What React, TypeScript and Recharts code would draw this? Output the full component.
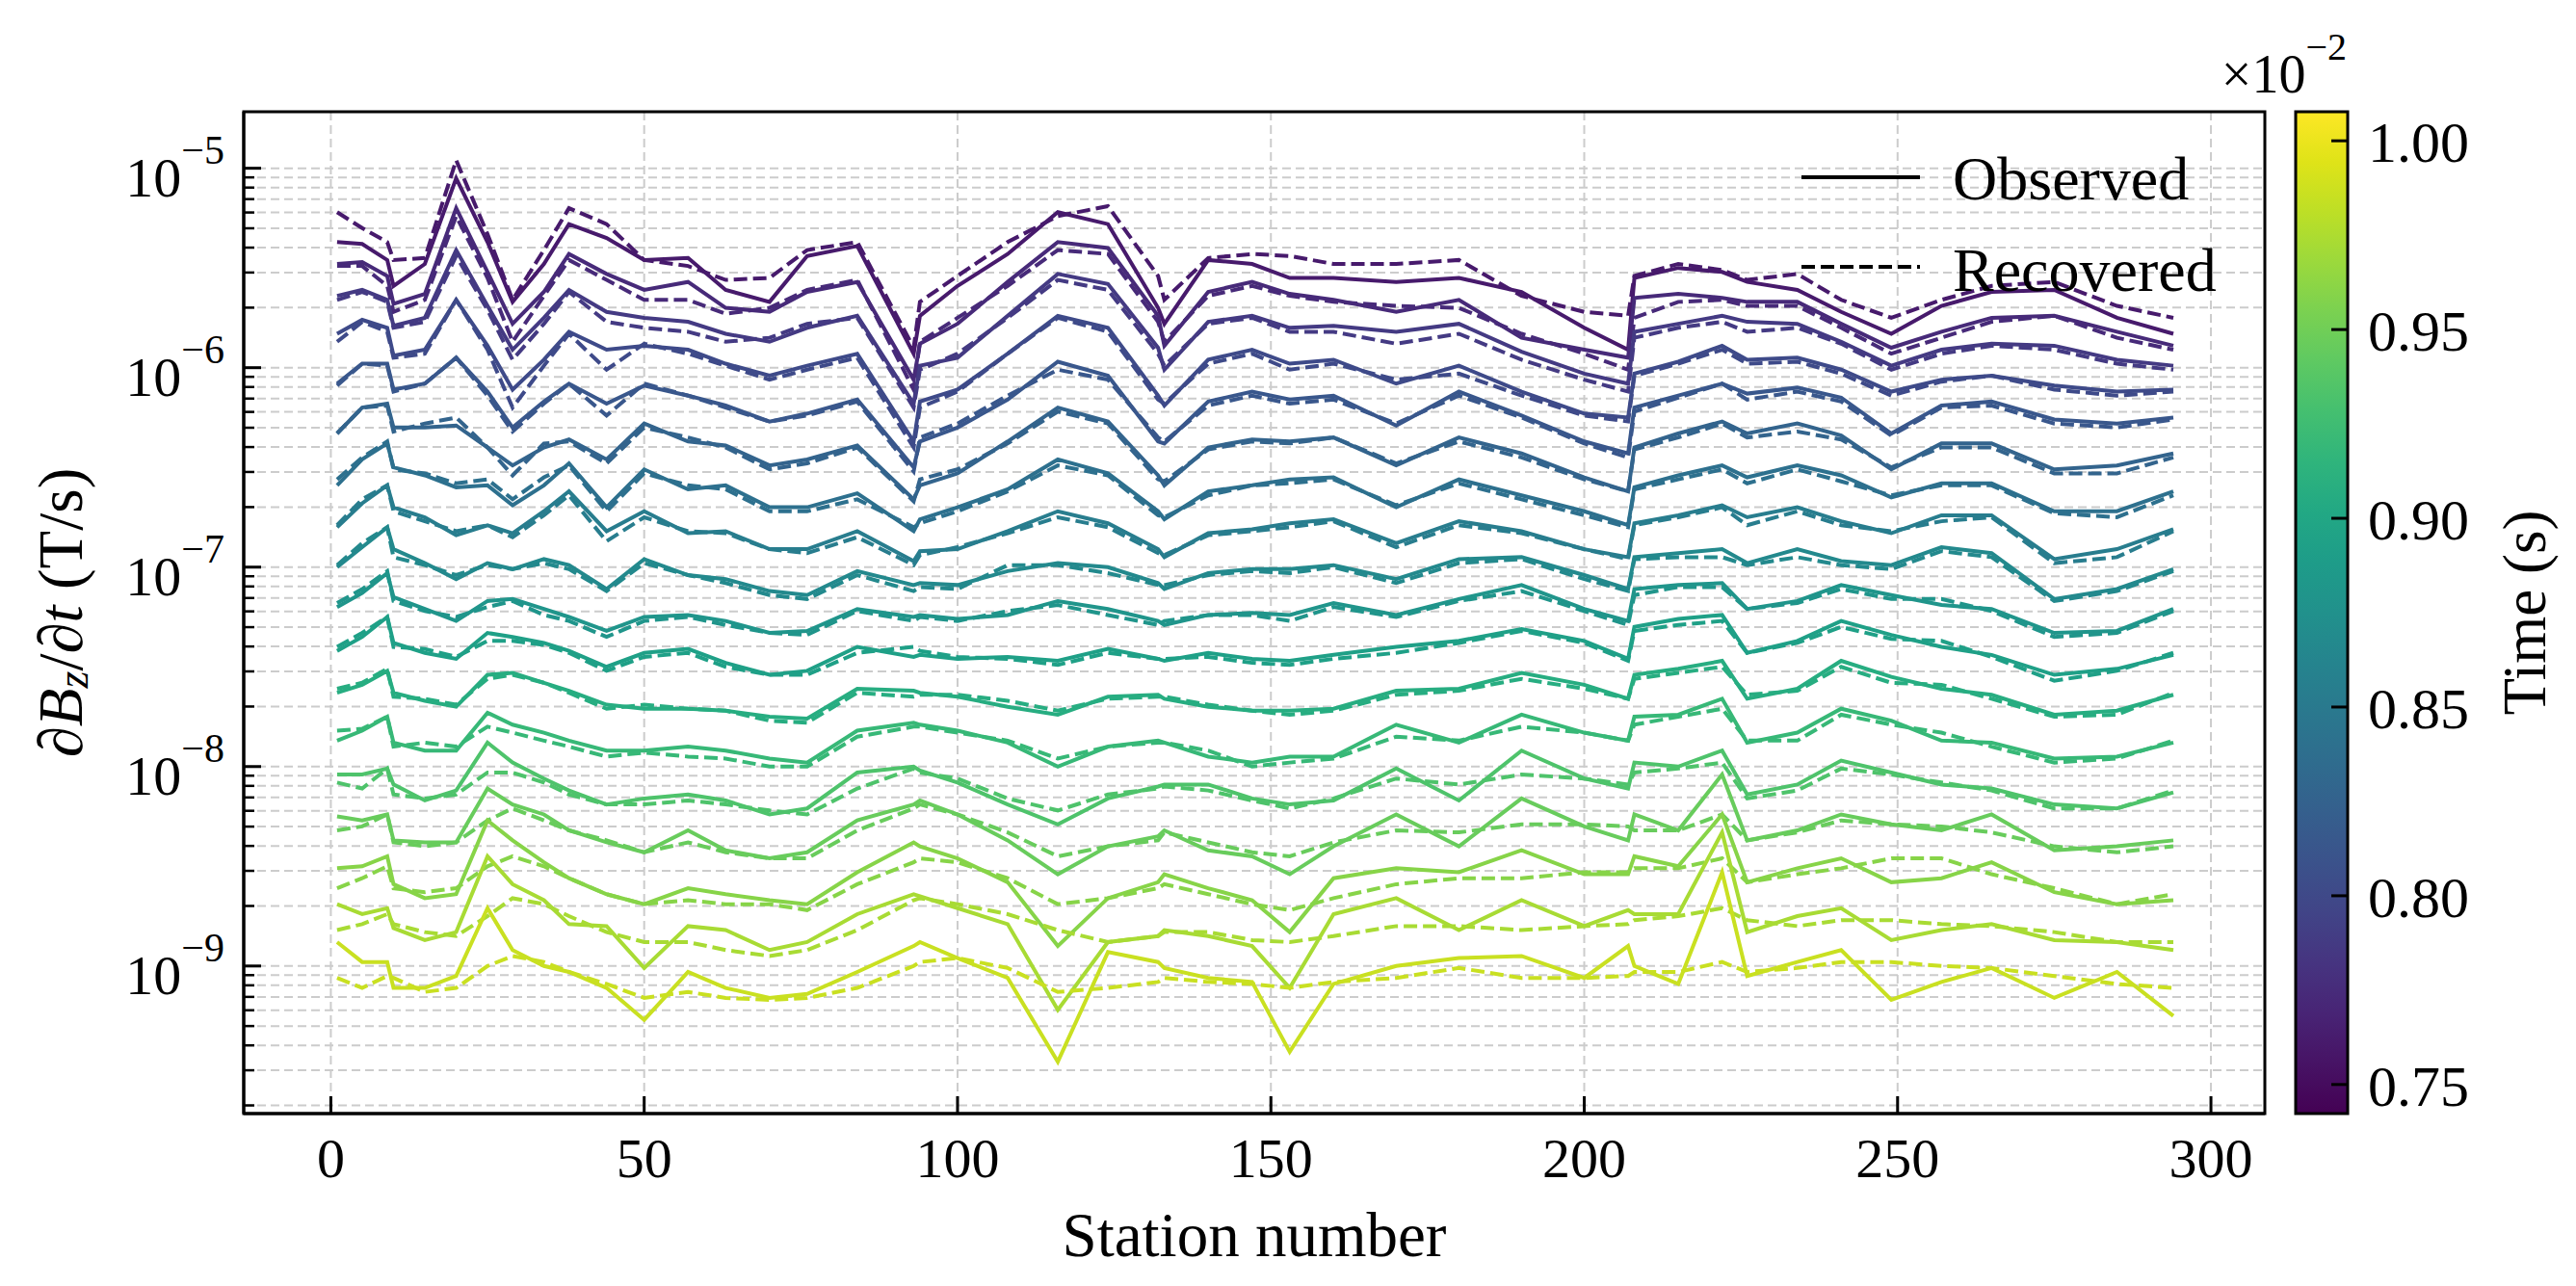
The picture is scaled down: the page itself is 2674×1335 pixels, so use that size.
import React from 'react';
import { LineChart, Line, XAxis, YAxis, CartesianGrid } from 'recharts';

const W = 2674;
const H = 1335;
const PLOT = { left: 253, top: 116, right: 2351, bottom: 1156 };
const SERIF = '"Liberation Serif", "Times New Roman", "DejaVu Serif", serif';
const Y_AXIS_W = 100;
const X_AXIS_H = 60;

const stations = [
  1, 5, 9, 10, 15, 20, 25, 29, 34, 38, 44, 50, 57, 63, 70,
  76, 84, 93, 94, 100, 108, 116, 124, 132, 133, 140, 147,
  153, 160, 170, 180, 190, 200, 207, 208, 215, 222, 226,
  234, 241, 249, 257, 265, 275, 285, 294,
];

// log10 of dBz/dt (T/s), observed (solid), earliest gate first
const obs0 = [
  -5.37, -5.38, -5.46, -5.59, -5.48, -5.05, -5.37, -5.67, -5.48, -5.28, -5.35, -5.46, -5.45, -5.61, -5.67,
  -5.44, -5.39, -5.93, -5.74, -5.59, -5.43, -5.22, -5.28, -5.70, -5.78, -5.46, -5.48,
  -5.55, -5.55, -5.57, -5.55, -5.62, -5.80, -5.91, -5.55, -5.50, -5.52, -5.57,
  -5.61, -5.72, -5.83, -5.69, -5.62, -5.61, -5.75, -5.83,
];
const obs1 = [
  -5.48, -5.47, -5.54, -5.68, -5.63, -5.20, -5.52, -5.78, -5.62, -5.43, -5.53, -5.61, -5.57, -5.70, -5.72,
  -5.62, -5.57, -6.06, -5.88, -5.78, -5.57, -5.37, -5.40, -5.74, -5.89, -5.62, -5.57,
  -5.63, -5.66, -5.72, -5.66, -5.85, -5.91, -5.95, -5.65, -5.63, -5.65, -5.67,
  -5.67, -5.78, -5.90, -5.82, -5.75, -5.74, -5.82, -5.89,
];
const obs2 = [
  -5.64, -5.61, -5.66, -5.79, -5.75, -5.41, -5.69, -5.91, -5.75, -5.61, -5.72, -5.75, -5.77, -5.83, -5.87,
  -5.80, -5.74, -6.18, -5.99, -5.95, -5.74, -5.53, -5.58, -5.90, -6.01, -5.77, -5.74,
  -5.80, -5.79, -5.82, -5.78, -5.92, -6.03, -6.08, -5.82, -5.78, -5.74, -5.77,
  -5.78, -5.87, -5.99, -5.91, -5.88, -5.89, -5.96, -5.99,
];
const obs3 = [
  -5.83, -5.76, -5.80, -5.94, -5.91, -5.66, -5.89, -6.11, -5.96, -5.82, -5.91, -5.89, -5.91, -5.98, -6.04,
  -5.99, -5.93, -6.37, -6.17, -6.11, -5.93, -5.74, -5.80, -6.14, -6.19, -5.96, -5.91,
  -5.98, -5.96, -6.08, -5.99, -6.12, -6.23, -6.25, -6.03, -5.97, -5.89, -5.96,
  -5.95, -6.01, -6.12, -6.06, -6.04, -6.09, -6.12, -6.11,
];
const obs4 = [
  -6.08, -5.98, -5.98, -6.11, -6.08, -5.95, -6.12, -6.30, -6.17, -6.08, -6.18, -6.09, -6.14, -6.19, -6.27,
  -6.23, -6.16, -6.50, -6.37, -6.30, -6.16, -5.97, -6.04, -6.37, -6.38, -6.17, -6.12,
  -6.16, -6.14, -6.29, -6.12, -6.24, -6.37, -6.43, -6.20, -6.14, -6.08, -6.13,
  -6.10, -6.15, -6.33, -6.19, -6.17, -6.26, -6.28, -6.25,
];
const obs5 = [
  -6.33, -6.20, -6.18, -6.30, -6.30, -6.29, -6.40, -6.49, -6.40, -6.36, -6.46, -6.28, -6.37, -6.39, -6.49,
  -6.46, -6.39, -6.66, -6.59, -6.53, -6.37, -6.20, -6.27, -6.54, -6.59, -6.40, -6.36,
  -6.37, -6.35, -6.49, -6.35, -6.43, -6.55, -6.62, -6.40, -6.33, -6.27, -6.33,
  -6.28, -6.34, -6.51, -6.38, -6.38, -6.51, -6.49, -6.43,
];
const obs6 = [
  -6.59, -6.46, -6.38, -6.50, -6.54, -6.60, -6.59, -6.69, -6.59, -6.48, -6.70, -6.51, -6.61, -6.59, -6.70,
  -6.70, -6.63, -6.82, -6.76, -6.70, -6.61, -6.46, -6.53, -6.72, -6.76, -6.62, -6.59,
  -6.56, -6.55, -6.70, -6.56, -6.64, -6.72, -6.79, -6.60, -6.54, -6.49, -6.55,
  -6.49, -6.54, -6.65, -6.58, -6.58, -6.72, -6.72, -6.62,
];
const obs7 = [
  -6.80, -6.68, -6.59, -6.70, -6.75, -6.84, -6.79, -6.83, -6.72, -6.62, -6.82, -6.72, -6.83, -6.82, -6.91,
  -6.91, -6.82, -6.97, -6.92, -6.91, -6.82, -6.72, -6.78, -6.91, -6.95, -6.83, -6.81,
  -6.78, -6.76, -6.88, -6.77, -6.82, -6.91, -6.95, -6.78, -6.74, -6.69, -6.75,
  -6.70, -6.77, -6.83, -6.74, -6.74, -6.96, -6.91, -6.81,
];
const obs8 = [
  -7.00, -6.90, -6.80, -6.91, -6.98, -7.06, -6.98, -7.01, -6.96, -6.99, -7.11, -6.96, -7.04, -7.06, -7.12,
  -7.14, -7.02, -7.09, -7.08, -7.09, -7.02, -6.98, -7.00, -7.08, -7.11, -7.03, -7.01,
  -7.01, -6.99, -7.06, -6.96, -6.95, -7.04, -7.11, -6.95, -6.93, -6.91, -6.98,
  -6.91, -6.97, -6.99, -6.90, -6.93, -7.16, -7.11, -7.01,
];
const obs9 = [
  -7.20, -7.13, -7.03, -7.15, -7.21, -7.27, -7.17, -7.16, -7.21, -7.25, -7.32, -7.25, -7.24, -7.27, -7.33,
  -7.32, -7.21, -7.25, -7.24, -7.26, -7.24, -7.17, -7.21, -7.27, -7.29, -7.24, -7.23,
  -7.24, -7.18, -7.24, -7.16, -7.09, -7.21, -7.27, -7.11, -7.09, -7.08, -7.21,
  -7.17, -7.09, -7.14, -7.19, -7.21, -7.33, -7.32, -7.21,
];
const obs10 = [
  -7.42, -7.35, -7.25, -7.38, -7.43, -7.46, -7.33, -7.35, -7.38, -7.42, -7.50, -7.43, -7.41, -7.48, -7.54,
  -7.52, -7.40, -7.45, -7.44, -7.46, -7.45, -7.47, -7.41, -7.46, -7.47, -7.43, -7.46,
  -7.47, -7.44, -7.40, -7.37, -7.31, -7.37, -7.46, -7.30, -7.26, -7.24, -7.43,
  -7.37, -7.27, -7.34, -7.40, -7.44, -7.54, -7.51, -7.44,
];
const obs11 = [
  -7.63, -7.59, -7.52, -7.63, -7.67, -7.70, -7.54, -7.53, -7.58, -7.62, -7.69, -7.71, -7.71, -7.72, -7.75,
  -7.76, -7.61, -7.62, -7.63, -7.65, -7.70, -7.74, -7.65, -7.64, -7.66, -7.70, -7.72,
  -7.72, -7.71, -7.62, -7.61, -7.53, -7.59, -7.66, -7.54, -7.51, -7.47, -7.66,
  -7.61, -7.47, -7.55, -7.61, -7.64, -7.74, -7.72, -7.64,
];
const obs12 = [
  -7.87, -7.82, -7.75, -7.88, -7.92, -7.92, -7.73, -7.79, -7.83, -7.87, -7.92, -7.92, -7.90, -7.92, -7.96,
  -7.98, -7.82, -7.78, -7.79, -7.82, -7.88, -8.00, -7.90, -7.87, -7.88, -7.95, -7.98,
  -7.95, -7.95, -7.79, -7.88, -7.74, -7.83, -7.87, -7.75, -7.74, -7.66, -7.88,
  -7.83, -7.71, -7.77, -7.87, -7.88, -7.96, -7.95, -7.88,
];
const obs13 = [
  -8.04, -8.04, -8.01, -8.09, -8.17, -8.12, -7.88, -7.98, -8.06, -8.12, -8.19, -8.16, -8.14, -8.17, -8.24,
  -8.21, -8.03, -8.00, -8.02, -8.08, -8.19, -8.29, -8.16, -8.10, -8.09, -8.09, -8.16,
  -8.19, -8.17, -8.01, -8.17, -7.92, -8.06, -8.11, -7.98, -8.00, -7.92, -8.14,
  -8.09, -7.97, -8.03, -8.09, -8.11, -8.19, -8.21, -8.13,
];
const obs14 = [
  -8.25, -8.27, -8.24, -8.37, -8.38, -8.38, -8.11, -8.19, -8.24, -8.32, -8.38, -8.43, -8.32, -8.42, -8.46,
  -8.43, -8.27, -8.19, -8.17, -8.24, -8.37, -8.54, -8.40, -8.35, -8.32, -8.42, -8.45,
  -8.54, -8.40, -8.24, -8.40, -8.16, -8.30, -8.37, -8.24, -8.32, -8.04, -8.37,
  -8.32, -8.24, -8.29, -8.32, -8.24, -8.42, -8.40, -8.37,
];
const obs15 = [
  -8.51, -8.50, -8.45, -8.59, -8.66, -8.64, -8.27, -8.37, -8.48, -8.56, -8.64, -8.69, -8.61, -8.64, -8.67,
  -8.69, -8.53, -8.38, -8.40, -8.46, -8.58, -8.90, -8.66, -8.58, -8.54, -8.61, -8.67,
  -8.83, -8.56, -8.51, -8.53, -8.42, -8.54, -8.54, -8.45, -8.50, -8.24, -8.58,
  -8.51, -8.46, -8.58, -8.56, -8.48, -8.63, -8.69, -8.67,
];
const obs16 = [
  -8.69, -8.74, -8.71, -8.81, -8.87, -8.83, -8.45, -8.59, -8.67, -8.79, -8.80, -9.01, -8.80, -8.82, -8.92,
  -8.88, -8.74, -8.64, -8.65, -8.71, -8.79, -9.22, -8.88, -8.85, -8.82, -8.85, -8.90,
  -9.11, -8.74, -8.66, -8.82, -8.67, -8.80, -8.72, -8.74, -8.74, -8.33, -8.83,
  -8.75, -8.71, -8.87, -8.82, -8.79, -8.87, -8.88, -8.92,
];
const obs17 = [
  -8.88, -8.98, -8.98, -9.11, -9.11, -9.05, -8.71, -8.92, -9.00, -9.03, -9.11, -9.27, -9.03, -9.11, -9.16,
  -9.14, -9.03, -8.90, -8.88, -8.96, -9.06, -9.48, -8.93, -8.98, -9.01, -9.06, -9.08,
  -9.43, -9.09, -9.00, -8.96, -8.95, -9.06, -8.90, -9.00, -9.09, -8.53, -9.05,
  -8.98, -8.92, -9.17, -9.08, -9.01, -9.16, -9.03, -9.25,
];

// log10 of dBz/dt (T/s), recovered (dashed)
const rec0 = [
  -5.22, -5.30, -5.37, -5.46, -5.45, -4.96, -5.33, -5.66, -5.41, -5.20, -5.28, -5.46, -5.49, -5.56, -5.55,
  -5.41, -5.37, -5.90, -5.67, -5.54, -5.37, -5.24, -5.19, -5.54, -5.66, -5.45, -5.43,
  -5.44, -5.48, -5.48, -5.46, -5.64, -5.72, -5.74, -5.54, -5.48, -5.51, -5.56,
  -5.53, -5.66, -5.75, -5.66, -5.59, -5.57, -5.69, -5.75,
];
const rec1 = [
  -5.49, -5.49, -5.59, -5.72, -5.66, -5.24, -5.55, -5.87, -5.64, -5.46, -5.56, -5.66, -5.66, -5.73, -5.70,
  -5.61, -5.56, -6.11, -5.87, -5.75, -5.59, -5.41, -5.43, -5.77, -5.87, -5.64, -5.59,
  -5.64, -5.67, -5.69, -5.70, -5.83, -5.93, -6.01, -5.75, -5.67, -5.66, -5.69,
  -5.69, -5.80, -5.93, -5.85, -5.77, -5.74, -5.85, -5.91,
];
const rec2 = [
  -5.66, -5.62, -5.67, -5.80, -5.77, -5.44, -5.71, -5.96, -5.78, -5.62, -5.77, -5.80, -5.82, -5.87, -5.85,
  -5.78, -5.75, -6.20, -6.01, -5.93, -5.75, -5.56, -5.61, -5.93, -5.99, -5.78, -5.75,
  -5.82, -5.82, -5.88, -5.83, -5.96, -6.06, -6.12, -5.85, -5.80, -5.77, -5.82,
  -5.80, -5.88, -6.01, -5.93, -5.89, -5.91, -5.98, -6.01,
];
const rec3 = [
  -5.87, -5.77, -5.82, -5.95, -5.93, -5.66, -5.91, -6.20, -5.99, -5.83, -6.01, -5.88, -5.93, -5.99, -6.06,
  -6.01, -5.95, -6.40, -6.20, -6.12, -5.93, -5.75, -5.82, -6.16, -6.18, -5.98, -5.93,
  -6.01, -5.98, -6.06, -6.03, -6.14, -6.24, -6.27, -6.04, -5.98, -5.91, -5.98,
  -5.97, -6.03, -6.14, -6.07, -6.04, -6.11, -6.14, -6.12,
];
const rec4 = [
  -6.09, -5.98, -5.99, -6.12, -6.08, -5.95, -6.14, -6.32, -6.18, -6.08, -6.24, -6.08, -6.14, -6.20, -6.27,
  -6.24, -6.17, -6.52, -6.35, -6.28, -6.14, -6.01, -6.06, -6.35, -6.37, -6.19, -6.14,
  -6.18, -6.16, -6.28, -6.14, -6.25, -6.38, -6.45, -6.22, -6.15, -6.08, -6.16,
  -6.12, -6.17, -6.34, -6.20, -6.19, -6.28, -6.30, -6.26,
];
const rec5 = [
  -6.33, -6.20, -6.19, -6.32, -6.28, -6.25, -6.40, -6.54, -6.38, -6.37, -6.48, -6.30, -6.35, -6.40, -6.51,
  -6.48, -6.40, -6.67, -6.56, -6.51, -6.38, -6.22, -6.28, -6.56, -6.57, -6.41, -6.37,
  -6.38, -6.35, -6.48, -6.37, -6.45, -6.56, -6.62, -6.41, -6.35, -6.28, -6.35,
  -6.32, -6.36, -6.50, -6.40, -6.40, -6.53, -6.53, -6.45,
];
const rec6 = [
  -6.56, -6.45, -6.37, -6.51, -6.53, -6.58, -6.56, -6.66, -6.55, -6.49, -6.72, -6.53, -6.59, -6.61, -6.72,
  -6.72, -6.66, -6.80, -6.78, -6.72, -6.62, -6.49, -6.54, -6.74, -6.75, -6.64, -6.59,
  -6.58, -6.56, -6.69, -6.58, -6.66, -6.74, -6.80, -6.61, -6.56, -6.51, -6.58,
  -6.51, -6.57, -6.64, -6.59, -6.59, -6.73, -6.75, -6.64,
];
const rec7 = [
  -6.79, -6.66, -6.59, -6.72, -6.77, -6.82, -6.79, -6.85, -6.74, -6.64, -6.87, -6.75, -6.82, -6.83, -6.91,
  -6.93, -6.85, -6.99, -6.94, -6.90, -6.83, -6.75, -6.80, -6.93, -6.94, -6.84, -6.82,
  -6.80, -6.77, -6.90, -6.79, -6.83, -6.91, -6.96, -6.79, -6.75, -6.70, -6.79,
  -6.72, -6.79, -6.82, -6.77, -6.75, -6.98, -6.95, -6.82,
];
const rec8 = [
  -6.99, -6.88, -6.80, -6.95, -6.99, -7.04, -6.99, -7.01, -6.98, -7.01, -7.12, -6.98, -7.04, -7.08, -7.14,
  -7.16, -7.04, -7.12, -7.10, -7.11, -6.99, -6.99, -7.03, -7.09, -7.09, -7.04, -7.02,
  -7.03, -7.00, -7.08, -6.98, -6.96, -7.06, -7.12, -6.96, -6.95, -6.95, -6.99,
  -6.95, -6.99, -7.01, -6.92, -6.95, -7.17, -7.12, -7.02,
];
const rec9 = [
  -7.18, -7.11, -7.02, -7.17, -7.22, -7.25, -7.20, -7.17, -7.24, -7.27, -7.35, -7.27, -7.25, -7.29, -7.33,
  -7.34, -7.22, -7.27, -7.25, -7.27, -7.22, -7.19, -7.24, -7.29, -7.27, -7.24, -7.24,
  -7.27, -7.20, -7.25, -7.17, -7.12, -7.22, -7.29, -7.14, -7.10, -7.10, -7.21,
  -7.18, -7.11, -7.16, -7.16, -7.22, -7.35, -7.33, -7.22,
];
const rec10 = [
  -7.40, -7.33, -7.25, -7.40, -7.41, -7.45, -7.37, -7.37, -7.39, -7.43, -7.52, -7.45, -7.43, -7.50, -7.54,
  -7.54, -7.43, -7.40, -7.42, -7.45, -7.46, -7.49, -7.43, -7.46, -7.46, -7.45, -7.48,
  -7.49, -7.46, -7.43, -7.38, -7.32, -7.38, -7.47, -7.32, -7.29, -7.27, -7.43,
  -7.38, -7.30, -7.36, -7.37, -7.45, -7.57, -7.52, -7.43,
];
const rec11 = [
  -7.61, -7.58, -7.51, -7.65, -7.66, -7.69, -7.56, -7.54, -7.58, -7.63, -7.71, -7.69, -7.71, -7.72, -7.77,
  -7.78, -7.63, -7.65, -7.64, -7.64, -7.67, -7.72, -7.66, -7.65, -7.65, -7.69, -7.72,
  -7.74, -7.72, -7.64, -7.62, -7.56, -7.61, -7.66, -7.56, -7.53, -7.50, -7.64,
  -7.62, -7.50, -7.58, -7.59, -7.66, -7.75, -7.74, -7.63,
];
const rec12 = [
  -7.82, -7.81, -7.75, -7.90, -7.88, -7.90, -7.80, -7.83, -7.87, -7.90, -7.95, -7.93, -7.95, -7.96, -8.00,
  -8.00, -7.85, -7.80, -7.80, -7.83, -7.87, -7.96, -7.90, -7.88, -7.88, -7.92, -8.00,
  -7.98, -7.96, -7.85, -7.87, -7.80, -7.83, -7.87, -7.79, -7.75, -7.71, -7.87,
  -7.87, -7.74, -7.79, -7.83, -7.90, -7.98, -7.96, -7.87,
];
const rec13 = [
  -8.08, -8.11, -8.01, -8.14, -8.16, -8.14, -8.03, -8.03, -8.08, -8.14, -8.19, -8.19, -8.17, -8.19, -8.22,
  -8.24, -8.11, -8.01, -8.03, -8.06, -8.16, -8.22, -8.14, -8.11, -8.10, -8.12, -8.17,
  -8.21, -8.16, -8.06, -8.09, -8.04, -8.06, -8.09, -8.03, -8.01, -7.98, -8.16,
  -8.12, -8.01, -8.04, -8.08, -8.12, -8.21, -8.21, -8.12,
];
const rec14 = [
  -8.32, -8.30, -8.24, -8.38, -8.40, -8.38, -8.27, -8.21, -8.27, -8.32, -8.37, -8.43, -8.38, -8.43, -8.46,
  -8.46, -8.32, -8.21, -8.19, -8.24, -8.33, -8.45, -8.40, -8.37, -8.33, -8.38, -8.43,
  -8.45, -8.38, -8.32, -8.33, -8.29, -8.29, -8.30, -8.32, -8.32, -8.24, -8.37,
  -8.33, -8.27, -8.29, -8.30, -8.33, -8.40, -8.43, -8.40,
];
const rec15 = [
  -8.61, -8.56, -8.50, -8.61, -8.63, -8.61, -8.50, -8.45, -8.50, -8.56, -8.64, -8.69, -8.67, -8.69, -8.69,
  -8.72, -8.59, -8.48, -8.46, -8.48, -8.56, -8.69, -8.66, -8.61, -8.59, -8.64, -8.69,
  -8.72, -8.66, -8.59, -8.56, -8.56, -8.53, -8.53, -8.51, -8.51, -8.46, -8.58,
  -8.54, -8.51, -8.46, -8.46, -8.54, -8.61, -8.69, -8.64,
];
const rec16 = [
  -8.82, -8.79, -8.74, -8.79, -8.83, -8.85, -8.75, -8.66, -8.69, -8.75, -8.83, -8.88, -8.88, -8.92, -8.95,
  -8.92, -8.82, -8.67, -8.66, -8.69, -8.74, -8.82, -8.88, -8.85, -8.83, -8.83, -8.87,
  -8.88, -8.85, -8.80, -8.80, -8.82, -8.80, -8.79, -8.77, -8.75, -8.71, -8.77,
  -8.80, -8.77, -8.77, -8.79, -8.80, -8.83, -8.88, -8.88,
];
const rec17 = [
  -9.06, -9.11, -9.05, -9.06, -9.13, -9.11, -9.00, -8.95, -8.98, -9.03, -9.09, -9.16, -9.13, -9.16, -9.17,
  -9.16, -9.11, -9.00, -8.98, -8.96, -9.01, -9.13, -9.11, -9.08, -9.06, -9.08, -9.09,
  -9.11, -9.08, -9.06, -9.01, -9.06, -9.06, -9.05, -9.03, -9.03, -8.98, -9.03,
  -9.01, -8.98, -8.98, -9.00, -9.01, -9.05, -9.09, -9.11,
];

// gate times (x 1e-2 s), estimated from the line colours
const gateTimes = [
  0.761, 0.774, 0.787, 0.801, 0.814, 0.827, 0.840, 0.854, 0.867,
  0.880, 0.893, 0.907, 0.920, 0.933, 0.946, 0.960, 0.973, 0.986,
];

const xTicks = [0, 50, 100, 150, 200, 250, 300];
const yMajorTicks = [1e-9, 1e-8, 1e-7, 1e-6, 1e-5];
const yMinorTicks = [
  2e-10, 3e-10, 4e-10, 5e-10, 6e-10, 7e-10, 8e-10, 9e-10,
  2e-9, 3e-9, 4e-9, 5e-9, 6e-9, 7e-9, 8e-9, 9e-9,
  2e-8, 3e-8, 4e-8, 5e-8, 6e-8, 7e-8, 8e-8, 9e-8,
  2e-7, 3e-7, 4e-7, 5e-7, 6e-7, 7e-7, 8e-7, 9e-7,
  2e-6, 3e-6, 4e-6, 5e-6, 6e-6, 7e-6, 8e-6, 9e-6,
];
const cbTicks = [0.75, 0.8, 0.85, 0.9, 0.95, 1.0];

const X_DOMAIN: [number, number] = [-13.9, 308.6];
const Y_DOMAIN: [number, number] = [1.82e-10, 1.92e-5];
const CB_MIN = 0.7423;
const CB_MAX = 1.0077;

const observed = [obs0, obs1, obs2, obs3, obs4, obs5, obs6, obs7, obs8, obs9, obs10, obs11, obs12, obs13, obs14, obs15, obs16, obs17];
const recovered = [rec0, rec1, rec2, rec3, rec4, rec5, rec6, rec7, rec8, rec9, rec10, rec11, rec12, rec13, rec14, rec15, rec16, rec17];

const chartData = stations.map((s, i) => {
  const row: Record<string, number> = { station: s };
  observed.forEach((arr, k) => { row[`o${k}`] = Math.pow(10, arr[i]); });
  recovered.forEach((arr, k) => { row[`r${k}`] = Math.pow(10, arr[i]); });
  return row;
});

const VIRIDIS = [
  '#440154', '#471365', '#482475', '#463480', '#414487', '#3b528b', '#355f8d',
  '#2f6c8e', '#2a788e', '#25848e', '#21918c', '#1e9c89', '#22a884', '#2fb47c',
  '#44bf70', '#5ec962', '#7ad151', '#9bd93c', '#bddf26', '#dfe318', '#fde725',
];

function hexRgb(h: string) {
  return [1, 3, 5].map(i => parseInt(h.slice(i, i + 2), 16));
}

function viridis(t: number) {
  const p = Math.max(0, Math.min(1, t)) * (VIRIDIS.length - 1);
  const i = Math.min(VIRIDIS.length - 2, Math.floor(p));
  const f = p - i;
  const a = hexRgb(VIRIDIS[i]);
  const b = hexRgb(VIRIDIS[i + 1]);
  const c = a.map((v, j) => Math.round(v + (b[j] - v) * f));
  return `rgb(${c[0]},${c[1]},${c[2]})`;
}

const lineColors = gateTimes.map(t => viridis((t - CB_MIN) / (CB_MAX - CB_MIN)));

const majorSet = new Set(yMajorTicks);

// ticks point inward, as in the matplotlib original
const YTick = (props: any) => {
  const { x, y, payload } = props;
  const v = payload.value as number;
  const major = majorSet.has(v);
  const exp = Math.round(Math.log10(v));
  return (
    <g>
      <line x1={x} x2={x + (major ? 18 : 11)} y1={y} y2={y} stroke="#000" strokeWidth={major ? 3 : 2.5} />
      {major && (
        <text x={x - 20} y={y + 29} textAnchor="end" fontFamily={SERIF} fontSize={58} fill="#000">
          10<tspan dy={-34} fontSize={42}>{`\u2212${-exp}`}</tspan>
        </text>
      )}
    </g>
  );
};

const XTick = (props: any) => {
  const { x, y, payload } = props;
  return (
    <g>
      <line x1={x} x2={x} y1={y} y2={y - 18} stroke="#000" strokeWidth={3} />
      <text x={x} y={y + 66} textAnchor="middle" fontFamily={SERIF} fontSize={58} fill="#000">
        {payload.value}
      </text>
    </g>
  );
};

function Overlay() {
  const cbX = 2383;
  const cbW = 54;
  const cbTop = PLOT.top;
  const cbH = PLOT.bottom - PLOT.top;
  const cbY = (v: number) => PLOT.bottom - ((v - CB_MIN) / (CB_MAX - CB_MIN)) * cbH;
  return (
    <svg width={W} height={H} style={{ position: 'absolute', left: 0, top: 0, pointerEvents: 'none' }}>
      <defs>
        <linearGradient id="viridisBar" x1="0" y1="1" x2="0" y2="0">
          {VIRIDIS.map((c, i) => (
            <stop key={i} offset={i / (VIRIDIS.length - 1)} stopColor={c} />
          ))}
        </linearGradient>
      </defs>

      {/* plot frame */}
      <rect x={PLOT.left} y={PLOT.top} width={PLOT.right - PLOT.left} height={PLOT.bottom - PLOT.top}
        fill="none" stroke="#000" strokeWidth={3} />

      {/* legend */}
      <line x1={1870} x2={1993} y1={184} y2={184} stroke="#000" strokeWidth={4} />
      <line x1={1870} x2={1993} y1={277} y2={277} stroke="#000" strokeWidth={4} strokeDasharray="14 6" />
      <text x={2027} y={207} fontFamily={SERIF} fontSize={64} fill="#000">Observed</text>
      <text x={2027} y={302} fontFamily={SERIF} fontSize={64} fill="#000">Recovered</text>

      {/* axis labels */}
      <text x={(PLOT.left + PLOT.right) / 2} y={1304} textAnchor="middle" fontFamily={SERIF} fontSize={65} fill="#000">
        Station number
      </text>
      <text transform={`translate(63, ${(PLOT.top + PLOT.bottom) / 2}) rotate(-90)`} textAnchor="middle"
        dominantBaseline="central" fontFamily={SERIF} fontSize={65} fill="#000">
        <tspan fontStyle="italic">{'\u2202B'}</tspan>
        <tspan fontStyle="italic" fontSize={46} dy={12}>z</tspan>
        <tspan dy={-12}>/</tspan>
        <tspan fontStyle="italic">{'\u2202t'}</tspan>
        <tspan> (T/s)</tspan>
      </text>

      {/* colour bar */}
      <rect x={cbX} y={cbTop} width={cbW} height={cbH} fill="url(#viridisBar)" stroke="#000" strokeWidth={3} />
      {cbTicks.map(v => (
        <g key={v}>
          <line x1={cbX + cbW} x2={cbX + cbW - 17} y1={cbY(v)} y2={cbY(v)} stroke="#000" strokeWidth={3} />
          <text x={2458} y={cbY(v) + 22} fontFamily={SERIF} fontSize={60} fill="#000">{v.toFixed(2)}</text>
        </g>
      ))}
      <text x={2436} y={96} textAnchor="end" fontFamily={SERIF} fontSize={56} fill="#000">
        {'\u00d710'}<tspan dy={-34} fontSize={40}>{'\u22122'}</tspan>
      </text>
      <text transform={`translate(2621, ${(PLOT.top + PLOT.bottom) / 2}) rotate(-90)`} textAnchor="middle"
        dominantBaseline="central" fontFamily={SERIF} fontSize={63} fill="#000">
        Time (s)
      </text>
    </svg>
  );
}

export default function App() {
  return (
    <div style={{ position: 'absolute', left: 0, top: 0, width: W, height: H, background: '#fff' }}>
      <LineChart
        width={W}
        height={H}
        data={chartData}
        margin={{
          top: PLOT.top,
          right: W - PLOT.right,
          bottom: H - PLOT.bottom - X_AXIS_H,
          left: PLOT.left - Y_AXIS_W,
        }}
      >
        <CartesianGrid
          horizontalValues={[...yMinorTicks, ...yMajorTicks]}
          verticalValues={xTicks}
          stroke="#cccccc"
          strokeWidth={2}
          strokeDasharray="9 5"
        />
        <XAxis
          dataKey="station"
          type="number"
          domain={X_DOMAIN}
          allowDataOverflow
          ticks={xTicks}
          interval={0}
          height={X_AXIS_H}
          tickSize={0}
          tickMargin={0}
          tickLine={false}
          axisLine={{ stroke: '#000', strokeWidth: 3 }}
          tick={XTick}
        />
        <YAxis
          type="number"
          scale="log"
          domain={Y_DOMAIN}
          allowDataOverflow
          ticks={[...yMinorTicks, ...yMajorTicks]}
          interval={0}
          width={Y_AXIS_W}
          tickSize={0}
          tickMargin={0}
          tickLine={false}
          axisLine={{ stroke: '#000', strokeWidth: 3 }}
          tick={YTick}
        />
        {observed.map((_, k) => [
          <Line
            key={`o${k}`}
            dataKey={`o${k}`}
            type="linear"
            stroke={lineColors[k]}
            strokeWidth={4}
            dot={false}
            activeDot={false}
            isAnimationActive={false}
          />,
          <Line
            key={`r${k}`}
            dataKey={`r${k}`}
            type="linear"
            stroke={lineColors[k]}
            strokeWidth={4}
            strokeDasharray="14 6"
            dot={false}
            activeDot={false}
            isAnimationActive={false}
          />,
        ])}
      </LineChart>
      <Overlay />
    </div>
  );
}
